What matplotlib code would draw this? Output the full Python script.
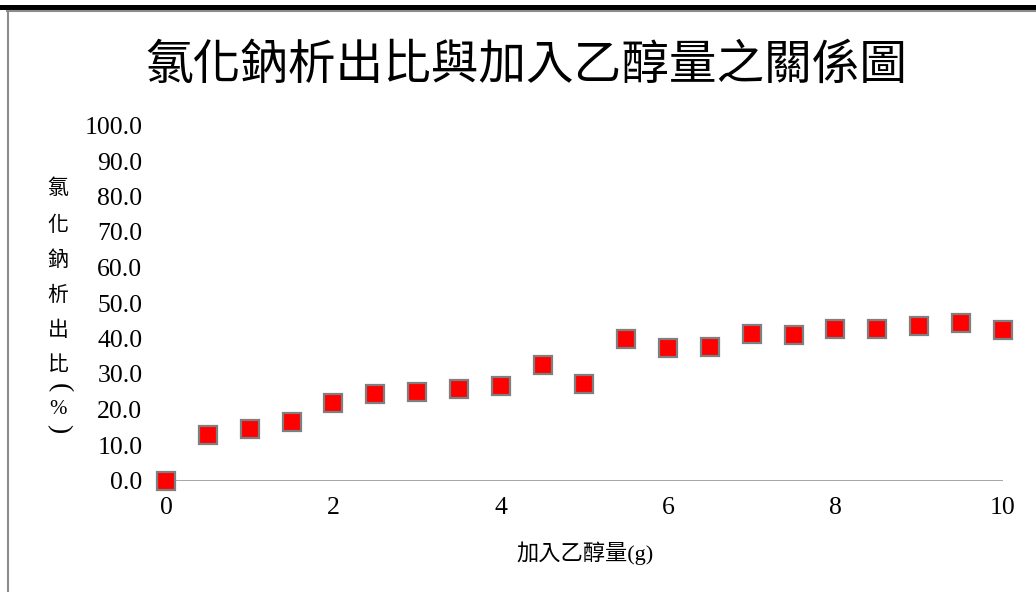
import matplotlib
matplotlib.use("Agg")
import matplotlib.pyplot as plt
from matplotlib.lines import Line2D
from matplotlib.patches import Rectangle

# Ethanol added (g) and NaCl precipitation ratio (%)
ethanol_g = [0, 0.5, 1, 1.5, 2, 2.5, 3, 3.5, 4, 4.5, 5,
             5.5, 6, 6.5, 7, 7.5, 8, 8.5, 9, 9.5, 10]
nacl_ratio = [0.0, 12.7, 14.6, 16.6, 21.9, 24.3, 24.9, 25.7, 26.6, 32.4, 27.1,
              39.9, 37.4, 37.7, 41.3, 41.0, 42.7, 42.7, 43.6, 44.4, 42.4]

x_ticks = [0, 2, 4, 6, 8, 10]
y_ticks = [0, 10, 20, 30, 40, 50, 60, 70, 80, 90, 100]

title = "氯化鈉析出比與加入乙醇量之關係圖"
x_label = "加入乙醇量(g)"
y_label_chars = ["氯", "化", "鈉", "析", "出", "比", "(", "%", ")"]

W, H = 1036, 592
fig = plt.figure(figsize=(W / 100, H / 100), dpi=100)
fig.patch.set_facecolor("white")

serif = ["Liberation Serif", "Noto Sans CJK TC"]
cjk = ["Noto Sans CJK TC", "Liberation Serif"]

def px(x, y):
    return x / W, 1 - y / H

# page frame: black band on top, thin grey rules under it and on the left
fig.add_artist(Rectangle(px(0, 9.5), 1, 4.5 / H, transform=fig.transFigure,
                         facecolor="black", edgecolor="none"))
fig.add_artist(Line2D([7 / W, 1], [1 - 10.5 / H] * 2, transform=fig.transFigure,
                      color="#8c8c8c", lw=1.5))
fig.add_artist(Line2D([7.5 / W] * 2, [1 - 10.5 / H, 0], transform=fig.transFigure,
                      color="#8c8c8c", lw=1.5))

left, right = 166, 1002.7
top, bottom = 125.5, 480.5
ax = fig.add_axes([left / W, 1 - bottom / H, (right - left) / W, (bottom - top) / H])
ax.set_xlim(0, 10)
ax.set_ylim(0, 100)
for s in ax.spines.values():
    s.set_visible(False)
ax.axhline(0, color="#8c8c8c", lw=1.8, zorder=1)

ax.plot(ethanol_g, nacl_ratio, linestyle="none", marker="s", markersize=13,
        markerfacecolor="#ff0000", markeredgecolor="#7f7f7f", markeredgewidth=1.6,
        clip_on=False, zorder=3)

ax.set_xticks(x_ticks)
ax.set_xticklabels([str(t) for t in x_ticks], fontfamily=serif, fontsize=18.5)
ax.set_yticks(y_ticks)
ax.set_yticklabels([f"{t:.1f}" for t in y_ticks], fontfamily=serif, fontsize=18.5)
ax.tick_params(axis="x", length=0, pad=12)
ax.tick_params(axis="y", length=0, pad=17)

fig.text(*px(526, 65), title, fontfamily=cjk, fontsize=34.3,
         ha="center", va="center")
fig.text(*px(585, 553), x_label, fontfamily=serif, fontsize=16,
         ha="center", va="center")

# vertical axis title, one glyph per row; brackets turned sideways
y_pos = [188, 225, 260, 295, 330, 364, 388, 410, 429]
for ch, yp in zip(y_label_chars, y_pos):
    if ch in "()":
        fig.text(*px(59, yp), ch, fontfamily="Liberation Serif", fontsize=20,
                 rotation=270, rotation_mode="anchor", ha="center", va="center")
    else:
        fig.text(*px(58, yp), ch, fontfamily=serif if ch == "%" else cjk,
                 fontsize=15, ha="center", va="center")

fig.savefig("out.png", dpi=100, facecolor="white")
